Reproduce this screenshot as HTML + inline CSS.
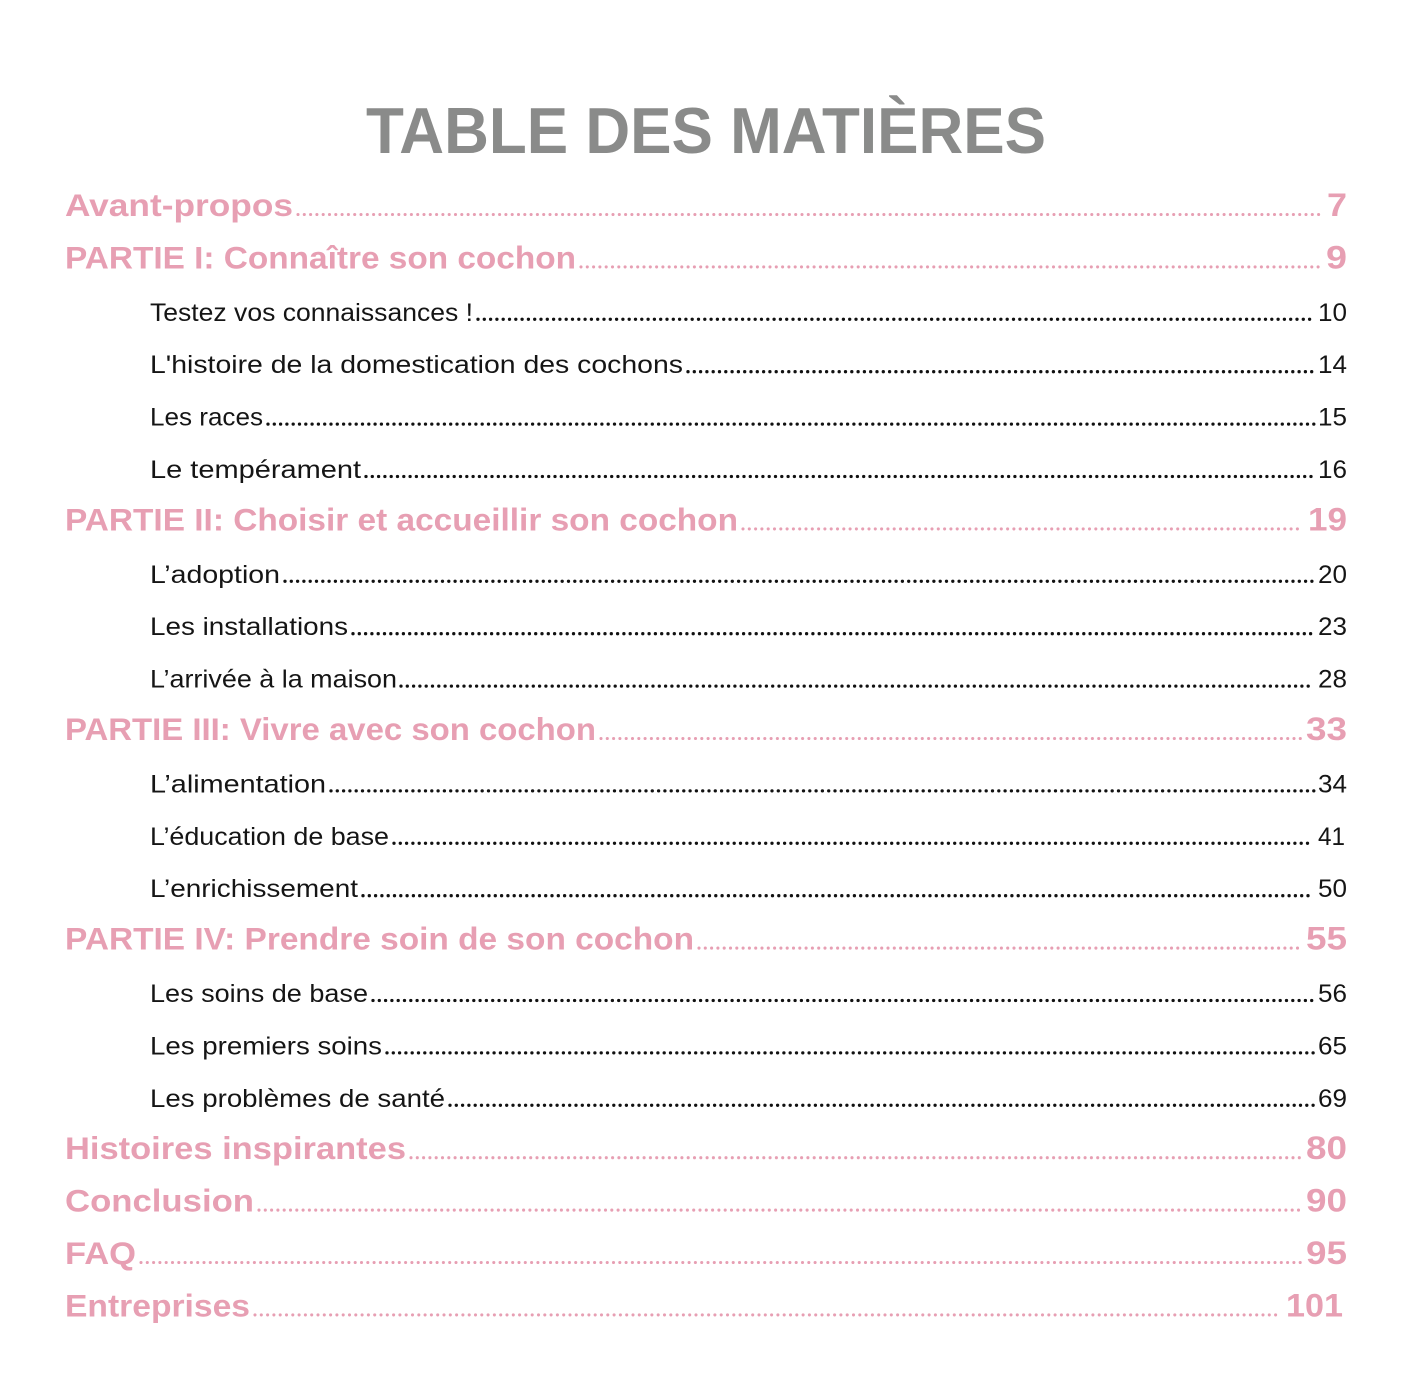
<!DOCTYPE html>
<html><head><meta charset="utf-8"><style>
html,body{margin:0;padding:0;background:#fff;}
svg{display:block;}
.h{font-family:"Liberation Sans",sans-serif;font-weight:bold;font-size:31.5px;fill:#e79fb3;}
.s{font-family:"Liberation Sans",sans-serif;font-size:25px;fill:#151515;}
.hn{font-family:"Liberation Sans",sans-serif;font-weight:bold;font-size:32px;fill:#e79fb3;}
.sn{font-family:"Liberation Sans",sans-serif;font-size:25px;fill:#151515;}
.pd{stroke:#e79fb3;stroke-width:3.1;stroke-linecap:round;stroke-dasharray:0 6.3;}
.bd{stroke:#111;stroke-width:3.3;stroke-linecap:round;stroke-dasharray:0 6.3;}
</style></head><body>
<svg width="1426" height="1400" viewBox="0 0 1426 1400" xmlns="http://www.w3.org/2000/svg">
<rect width="1426" height="1400" fill="#fff"/>
<text x="366" y="153" textLength="680" lengthAdjust="spacingAndGlyphs" style="font-family:'Liberation Sans',sans-serif;font-weight:bold;font-size:65px;fill:#8a8b8a;">TABLE DES MATIÈRES</text>

<!-- 0 -->
<text class="h" x="65" y="216" textLength="228" lengthAdjust="spacingAndGlyphs">Avant-propos</text>
<line class="pd" x1="298" y1="214.5" x2="1322" y2="214.5"/>
<text class="hn" x="1327" y="216" textLength="20" lengthAdjust="spacingAndGlyphs">7</text>
<!-- 1 -->
<text class="h" x="65" y="268.4" textLength="511" lengthAdjust="spacingAndGlyphs">PARTIE I: Connaître son cochon</text>
<line class="pd" x1="581" y1="266.9" x2="1321" y2="266.9"/>
<text class="hn" x="1326" y="268.4" textLength="21" lengthAdjust="spacingAndGlyphs">9</text>
<!-- 2 -->
<text class="s" x="150" y="320.8" textLength="323" lengthAdjust="spacingAndGlyphs">Testez vos connaissances !</text>
<line class="bd" x1="478" y1="319.3" x2="1314" y2="319.3"/>
<text class="sn" x="1318" y="320.8" textLength="29" lengthAdjust="spacingAndGlyphs">10</text>
<!-- 3 -->
<text class="s" x="150" y="373.2" textLength="533" lengthAdjust="spacingAndGlyphs">L'histoire de la domestication des cochons</text>
<line class="bd" x1="688" y1="371.7" x2="1314" y2="371.7"/>
<text class="sn" x="1318" y="373.2" textLength="29" lengthAdjust="spacingAndGlyphs">14</text>
<!-- 4 -->
<text class="s" x="150" y="425.6" textLength="113" lengthAdjust="spacingAndGlyphs">Les races</text>
<line class="bd" x1="268" y1="424.1" x2="1314" y2="424.1"/>
<text class="sn" x="1318" y="425.6" textLength="29" lengthAdjust="spacingAndGlyphs">15</text>
<!-- 5 -->
<text class="s" x="150" y="478" textLength="211" lengthAdjust="spacingAndGlyphs">Le tempérament</text>
<line class="bd" x1="366" y1="476.5" x2="1314" y2="476.5"/>
<text class="sn" x="1318" y="478" textLength="29" lengthAdjust="spacingAndGlyphs">16</text>
<!-- 6 -->
<text class="h" x="65" y="530.4" textLength="673" lengthAdjust="spacingAndGlyphs">PARTIE II: Choisir et accueillir son cochon</text>
<line class="pd" x1="743" y1="528.9" x2="1303" y2="528.9"/>
<text class="hn" x="1308" y="530.4" textLength="39" lengthAdjust="spacingAndGlyphs">19</text>
<!-- 7 -->
<text class="s" x="150" y="582.8" textLength="130" lengthAdjust="spacingAndGlyphs">L’adoption</text>
<line class="bd" x1="285" y1="581.3" x2="1314" y2="581.3"/>
<text class="sn" x="1318" y="582.8" textLength="29" lengthAdjust="spacingAndGlyphs">20</text>
<!-- 8 -->
<text class="s" x="150" y="635.2" textLength="198" lengthAdjust="spacingAndGlyphs">Les installations</text>
<line class="bd" x1="353" y1="633.7" x2="1314" y2="633.7"/>
<text class="sn" x="1318" y="635.2" textLength="29" lengthAdjust="spacingAndGlyphs">23</text>
<!-- 9 -->
<text class="s" x="150" y="687.6" textLength="247" lengthAdjust="spacingAndGlyphs">L’arrivée à la maison</text>
<line class="bd" x1="401" y1="686.1" x2="1314" y2="686.1"/>
<text class="sn" x="1318" y="687.6" textLength="29" lengthAdjust="spacingAndGlyphs">28</text>
<!-- 10 -->
<text class="h" x="65" y="740" textLength="531" lengthAdjust="spacingAndGlyphs">PARTIE III: Vivre avec son cochon</text>
<line class="pd" x1="601" y1="738.5" x2="1301" y2="738.5"/>
<text class="hn" x="1306" y="740" textLength="41" lengthAdjust="spacingAndGlyphs">33</text>
<!-- 11 -->
<text class="s" x="150" y="792.4" textLength="176" lengthAdjust="spacingAndGlyphs">L’alimentation</text>
<line class="bd" x1="331" y1="790.9" x2="1314" y2="790.9"/>
<text class="sn" x="1318" y="792.4" textLength="29" lengthAdjust="spacingAndGlyphs">34</text>
<!-- 12 -->
<text class="s" x="150" y="844.8" textLength="239" lengthAdjust="spacingAndGlyphs">L’éducation de base</text>
<line class="bd" x1="394" y1="843.3" x2="1313" y2="843.3"/>
<text class="sn" x="1318" y="844.8" textLength="27" lengthAdjust="spacingAndGlyphs">41</text>
<!-- 13 -->
<text class="s" x="150" y="897.2" textLength="208" lengthAdjust="spacingAndGlyphs">L’enrichissement</text>
<line class="bd" x1="363" y1="895.7" x2="1314" y2="895.7"/>
<text class="sn" x="1318" y="897.2" textLength="29" lengthAdjust="spacingAndGlyphs">50</text>
<!-- 14 -->
<text class="h" x="65" y="949.6" textLength="629" lengthAdjust="spacingAndGlyphs">PARTIE IV: Prendre soin de son cochon</text>
<line class="pd" x1="699" y1="948.1" x2="1301" y2="948.1"/>
<text class="hn" x="1306" y="949.6" textLength="41" lengthAdjust="spacingAndGlyphs">55</text>
<!-- 15 -->
<text class="s" x="150" y="1002" textLength="218" lengthAdjust="spacingAndGlyphs">Les soins de base</text>
<line class="bd" x1="373" y1="1000.5" x2="1314" y2="1000.5"/>
<text class="sn" x="1318" y="1002" textLength="29" lengthAdjust="spacingAndGlyphs">56</text>
<!-- 16 -->
<text class="s" x="150" y="1054.4" textLength="232" lengthAdjust="spacingAndGlyphs">Les premiers soins</text>
<line class="bd" x1="387" y1="1052.9" x2="1314" y2="1052.9"/>
<text class="sn" x="1318" y="1054.4" textLength="29" lengthAdjust="spacingAndGlyphs">65</text>
<!-- 17 -->
<text class="s" x="150" y="1106.8" textLength="295" lengthAdjust="spacingAndGlyphs">Les problèmes de santé</text>
<line class="bd" x1="450" y1="1105.3" x2="1314" y2="1105.3"/>
<text class="sn" x="1318" y="1106.8" textLength="29" lengthAdjust="spacingAndGlyphs">69</text>
<!-- 18 -->
<text class="h" x="65" y="1159.2" textLength="341" lengthAdjust="spacingAndGlyphs">Histoires inspirantes</text>
<line class="pd" x1="411" y1="1157.7" x2="1301" y2="1157.7"/>
<text class="hn" x="1306" y="1159.2" textLength="41" lengthAdjust="spacingAndGlyphs">80</text>
<!-- 19 -->
<text class="h" x="65" y="1211.6" textLength="189" lengthAdjust="spacingAndGlyphs">Conclusion</text>
<line class="pd" x1="259" y1="1210.1" x2="1301" y2="1210.1"/>
<text class="hn" x="1306" y="1211.6" textLength="41" lengthAdjust="spacingAndGlyphs">90</text>
<!-- 20 -->
<text class="h" x="65" y="1264" textLength="71" lengthAdjust="spacingAndGlyphs">FAQ</text>
<line class="pd" x1="141" y1="1262.5" x2="1301" y2="1262.5"/>
<text class="hn" x="1306" y="1264" textLength="41" lengthAdjust="spacingAndGlyphs">95</text>
<!-- 21 -->
<text class="h" x="65" y="1316.4" textLength="185" lengthAdjust="spacingAndGlyphs">Entreprises</text>
<line class="pd" x1="255" y1="1314.9" x2="1281" y2="1314.9"/>
<text class="hn" x="1286" y="1316.4" textLength="57" lengthAdjust="spacingAndGlyphs">101</text>
</svg>
</body></html>
